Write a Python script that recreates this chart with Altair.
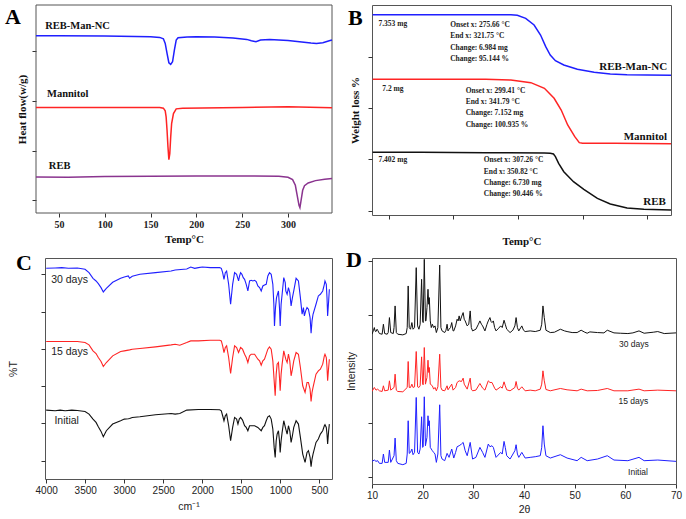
import altair as alt
import pandas as pd

SERIF = "Liberation Serif"
SANS = "Liberation Sans"

# ---------------- Panel A : DSC ----------------
A_blue_x = [25, 50, 100, 150, 160, 164, 166, 168, 170, 172, 174, 176, 178, 180, 190, 200, 220, 240, 255, 260, 265, 270, 280, 300, 315, 325, 331, 338, 345, 348]
A_blue_y = [531, 531, 530, 528, 526, 522, 508, 478, 450, 445, 453, 488, 518, 525, 527, 528, 527, 524, 520, 516, 513, 518, 520, 517, 512, 509, 508, 510, 516, 518]
A_red_x = [25, 100, 160, 164, 166, 167, 168, 169, 170, 171, 172, 173, 175, 178, 185, 250, 300, 348]
A_red_y = [316, 316, 316, 314, 306, 288, 248, 198, 160, 178, 228, 268, 298, 312, 314, 316, 318, 315]
A_reb_x = [25, 60, 100, 150, 200, 250, 290, 300, 305, 308, 310, 312, 313, 314, 316, 318, 322, 330, 340, 348]
A_reb_y = [108, 107, 109, 110, 111, 111, 110, 107, 100, 83, 53, 23, 16, 33, 68, 82, 90, 97, 101, 103]
A_lab_text = ["REB-Man-NC", "Mannitol", "REB"]
A_lab_x = [35, 37, 39]
A_lab_y = [560, 355, 140]

# ---------------- Panel B : TGA ----------------
B_blue_x = [25, 100, 200, 239, 249, 262, 275, 285, 293, 300, 308, 321, 342, 368, 393, 419, 450, 487]
B_blue_y = [601, 601, 601, 601, 599, 590, 570, 540, 505, 480, 463, 450, 437, 428, 423, 421, 420, 419]
B_red_x = [25, 100, 200, 239, 270, 291, 306, 317, 327, 338, 345, 350, 400, 487]
B_red_y = [407, 407, 407, 405, 397, 380, 350, 315, 270, 235, 217, 215, 215, 214]
B_blk_x = [25, 100, 200, 291, 300, 305, 308, 313, 321, 336, 352, 373, 393, 419, 445, 487]
B_blk_y = [188, 188, 187, 186, 185, 183, 175, 155, 130, 100, 77, 50, 33, 21, 17, 15]
B_note_text = ["7.353 mg", "Onset x: 275.66 °C", "End x: 321.75 °C", "Change: 6.984 mg", "Change: 95.144 %",
               "7.2 mg", "Onset x: 299.41 °C", "End x: 341.79 °C", "Change: 7.152 mg", "Change: 100.935 %",
               "7.402 mg", "Onset x: 307.26 °C", "End x: 350.82 °C", "Change: 6.730 mg", "Change: 90.446 %"]
B_note_x = [34, 145, 145, 145, 145, 40, 169, 169, 169, 169, 34, 197, 197, 197, 197]
B_note_y = [573, 570, 536, 502, 468, 377, 373, 339, 305, 271, 165, 164, 130, 96, 62]
B_lab_text = ["REB-Man-NC", "Mannitol", "REB"]
B_lab_x = [481, 481, 479]
B_lab_y = [445, 235, 40]

# ---------------- Panel C : FTIR ----------------
C_blue_x = [4000, 3885, 3800, 3715, 3600, 3502, 3451, 3400, 3361, 3332, 3297, 3268, 3229, 3148, 3046, 2999, 2948, 2931, 2897, 2799, 2599, 2399, 2348, 2199, 2148, 2097, 2050, 1999, 1897, 1777,
            1756, 1739, 1722, 1705, 1688, 1662, 1637, 1611, 1586, 1560, 1535, 1522, 1509, 1492, 1475, 1458, 1437, 1416, 1394, 1373, 1352, 1330, 1309, 1288, 1266, 1245, 1224, 1203, 1181, 1160,
            1139, 1117, 1096, 1083, 1075, 1062, 1049, 1024, 1011, 1002, 990, 977, 956, 937, 930, 913, 896, 879, 862, 845, 828, 798, 768, 743, 721, 704, 692, 675, 658, 640, 619, 606, 594, 581,
            543, 513, 487, 457, 436, 428, 411, 402, 394, 381, 372]
C_blue_y = [633, 634, 635, 633, 634, 630, 620, 603, 595, 587, 575, 562, 573, 591, 603, 607, 610, 603, 609, 615, 620, 625, 628, 631, 637, 633, 635, 637, 635, 635,
            633, 620, 600, 620, 625, 585, 525, 585, 620, 615, 595, 610, 620, 615, 605, 600, 585, 565, 595, 597, 595, 597, 593, 580, 575, 565, 580, 583, 585, 610,
            620, 615, 585, 525, 460, 515, 545, 565, 515, 460, 525, 555, 605, 590, 565, 555, 575, 560, 520, 545, 565, 603, 595, 545, 495, 515, 490, 505, 515, 510, 485, 438, 475, 495,
            525, 550, 555, 565, 585, 595, 585, 545, 490, 535, 570]
C_red_x = [4000, 3800, 3600, 3502, 3451, 3400, 3361, 3332, 3297, 3268, 3229, 3148, 3046, 2999, 2931, 2897, 2799, 2599, 2399, 2348, 2288, 2199, 2148, 2050, 1897, 1777,
           1756, 1739, 1722, 1705, 1688, 1662, 1637, 1611, 1586, 1560, 1535, 1509, 1484, 1458, 1437, 1416, 1394, 1373, 1330, 1288, 1266, 1245, 1224, 1203, 1181, 1160,
           1139, 1117, 1096, 1079, 1066, 1053, 1041, 1024, 1011, 1002, 990, 977, 956, 930, 913, 896, 879, 862, 845, 828, 798, 768, 743, 713, 683, 658, 640, 619, 606, 594, 581,
           543, 513, 487, 457, 436, 428, 411, 402, 394, 381, 372]
C_red_y = [413, 413, 413, 410, 403, 385, 377, 365, 353, 338, 350, 370, 383, 385, 388, 390, 392, 397, 403, 405, 402, 410, 415, 415, 417, 417,
           415, 400, 380, 395, 400, 365, 317, 365, 400, 395, 380, 395, 390, 375, 365, 350, 370, 375, 375, 360, 355, 342, 355, 360, 375, 390,
           397, 390, 355, 295, 250, 315, 345, 350, 305, 265, 315, 345, 385, 360, 350, 375, 355, 310, 330, 355, 380, 375, 335, 280, 260, 290, 290, 270, 233, 260, 275,
           315, 325, 330, 345, 370, 375, 365, 335, 295, 335, 360]
C_blk_x = [4000, 3885, 3821, 3757, 3672, 3600, 3502, 3451, 3400, 3361, 3332, 3297, 3268, 3229, 3148, 3046, 2999, 2948, 2931, 2897, 2799, 2599, 2399, 2348, 2288, 2199, 2050, 1897, 1777,
           1756, 1739, 1722, 1705, 1688, 1662, 1637, 1611, 1586, 1560, 1543, 1526, 1509, 1484, 1458, 1437, 1416, 1394, 1373, 1330, 1288, 1266, 1245, 1224, 1203, 1181, 1160,
           1139, 1117, 1096, 1079, 1066, 1053, 1041, 1024, 1011, 1002, 990, 977, 956, 930, 913, 896, 879, 862, 845, 828, 798, 768, 743, 713, 683, 658, 640, 619, 606, 594, 581,
           543, 513, 487, 457, 436, 428, 411, 402, 394, 381, 372]
C_blk_y = [207, 205, 207, 205, 207, 206, 203, 195, 180, 170, 157, 143, 127, 145, 165, 175, 180, 181, 182, 185, 187, 193, 197, 195, 197, 207, 209, 209, 208,
           205, 190, 175, 190, 195, 160, 115, 155, 185, 180, 165, 180, 185, 177, 160, 155, 145, 160, 160, 160, 155, 150, 145, 155, 160, 175, 187,
           190, 180, 150, 95, 65, 115, 135, 145, 115, 80, 115, 140, 175, 150, 135, 160, 145, 110, 130, 155, 175, 165, 125, 75, 50, 80, 85, 65, 37, 60, 75,
           110, 120, 135, 145, 160, 163, 155, 135, 105, 145, 165]
C_lab_text = ["30 days", "15 days", "Initial"]
C_lab_x = [3936, 3936, 3894]
C_lab_y = [597, 383, 175]

# ---------------- Panel D : XRD ----------------
D_blk_x = [10.0, 10.3, 10.46, 10.6, 10.79, 11.0, 11.12, 11.46, 12.0, 12.25, 12.5, 13.0, 13.2, 13.44, 13.7, 14.2, 14.35, 14.56, 14.8, 15.09, 16.09, 16.75, 16.95, 17.14, 17.35, 17.6, 17.87, 18.1, 18.4, 18.73,
           19.0, 19.26, 19.5, 19.79, 20.0, 20.1, 20.32, 20.55, 20.65, 20.85, 21.05, 21.2, 21.31, 21.5, 21.7, 21.91, 22.17, 22.44, 22.7, 23.0, 23.36, 23.6, 23.83, 24.35, 24.6, 24.82, 25.0, 25.21, 25.5, 25.74,
           26.0, 26.14, 26.5, 26.8, 27.0, 27.2, 27.4, 27.66, 27.99, 28.2, 28.39, 28.79, 29.1, 29.38, 29.6, 29.85, 30.51, 31.0, 31.3, 31.6, 31.83, 32.29, 32.7, 32.95, 33.28, 33.5, 33.68, 33.95, 34.2, 34.48,
           35.0, 35.4, 35.7, 36.06, 36.3, 36.59, 37.25, 37.8, 38.2, 38.44, 38.7, 38.97, 39.57, 39.9, 40.23, 41.22, 42.22, 43.21, 43.5, 43.74, 44.0, 44.33, 45.19, 46.0, 47.18, 48.0, 48.5, 49.5, 50.48, 51.28,
           52.0, 52.47, 53.0, 54.5, 55.78, 56.44, 57.76, 59.0, 60.5, 61.5, 62.7, 63.71, 65.5, 66.4, 67.68, 70.0]
D_blk_y = [450, 462, 470, 460, 458, 465, 462, 452, 450, 480, 452, 450, 455, 500, 455, 452, 470, 535, 455, 450, 448, 452, 470, 595, 470, 465, 485, 465, 470, 650,
           475, 465, 480, 615, 490, 485, 675, 490, 490, 530, 585, 540, 560, 490, 470, 480, 470, 475, 455, 470, 658, 470, 460, 455, 462, 480, 460, 465, 470, 485,
           460, 460, 475, 495, 490, 505, 490, 502, 515, 495, 490, 475, 480, 520, 470, 460, 465, 480, 490, 480, 475, 460, 480, 490, 500, 488, 485, 490, 470, 460,
           468, 475, 470, 492, 480, 465, 455, 462, 475, 500, 470, 460, 475, 462, 458, 460, 458, 462, 480, 535, 500, 462, 455, 456, 465, 460, 458, 455, 455, 462,
           456, 453, 457, 455, 454, 462, 454, 453, 452, 454, 460, 453, 456, 458, 452, 454]
D_red_x = [10.0, 10.46, 10.79, 11.12, 11.46, 12.0, 12.25, 12.5, 13.2, 13.44, 13.7, 14.35, 14.56, 14.8, 15.09, 16.09, 16.95, 17.14, 17.35, 17.6, 17.87, 18.1, 18.4, 18.73, 19.0, 19.26, 19.5, 19.79, 20.0, 20.1,
           20.32, 20.55, 20.85, 21.05, 21.2, 21.31, 21.5, 21.91, 22.17, 22.44, 22.7, 23.0, 23.36, 23.6, 23.83, 24.35, 24.82, 25.0, 25.74, 26.0, 26.5, 26.8, 27.2, 27.66, 27.99, 28.2, 28.79, 29.38, 29.6, 29.85,
           30.51, 31.3, 31.83, 32.29, 32.95, 33.28, 33.68, 34.2, 34.48, 35.4, 35.7, 36.06, 36.3, 36.59, 37.25, 38.2, 38.44, 38.7, 38.97, 39.57, 40.23, 41.22, 42.22, 43.21, 43.5, 43.74, 44.0, 44.33, 45.19, 47.18,
           48.5, 50.48, 51.28, 52.47, 54.5, 56.44, 57.76, 60.5, 62.7, 63.71, 66.4, 70.0]
D_red_y = [278, 290, 282, 285, 280, 278, 295, 280, 282, 310, 282, 290, 330, 282, 278, 277, 290, 368, 290, 290, 300, 290, 292, 398, 292, 290, 295, 382, 300, 298,
           410, 300, 320, 372, 335, 350, 300, 295, 285, 290, 280, 292, 390, 290, 282, 280, 295, 283, 300, 282, 290, 305, 310, 308, 318, 300, 285, 318, 285, 280,
           282, 302, 288, 282, 310, 305, 305, 288, 282, 292, 288, 307, 295, 283, 280, 290, 308, 288, 282, 292, 280, 282, 280, 285, 300, 340, 310, 284, 280, 287,
           283, 280, 285, 280, 281, 287, 280, 280, 285, 280, 282, 280]
D_blu_x = [10.0, 10.46, 10.79, 11.12, 11.46, 12.0, 12.25, 12.5, 13.2, 13.44, 13.7, 14.35, 14.56, 14.8, 15.09, 16.09, 16.75, 16.95, 17.14, 17.35, 17.6, 17.87, 18.1, 18.4, 18.73, 19.0, 19.26, 19.5, 19.79, 20.0,
           20.1, 20.32, 20.55, 20.85, 21.05, 21.2, 21.31, 21.5, 21.91, 22.17, 22.44, 22.7, 23.0, 23.36, 23.6, 23.83, 24.35, 24.82, 25.21, 25.74, 26.14, 26.5, 26.8, 27.2, 27.66, 27.99, 28.39, 28.79, 29.38, 29.85,
           30.51, 31.3, 31.83, 32.29, 32.95, 33.28, 33.68, 33.95, 34.48, 35.4, 35.7, 36.06, 36.3, 36.59, 37.25, 38.2, 38.44, 38.7, 38.97, 39.57, 40.23, 41.22, 42.22, 43.21, 43.5, 43.74, 44.0, 44.33, 45.19, 47.18,
           48.5, 50.48, 51.28, 52.47, 54.5, 56.44, 57.76, 60.5, 62.7, 63.71, 66.4, 70.0]
D_blu_y = [68, 72, 68, 70, 62, 62, 90, 65, 65, 102, 65, 85, 138, 70, 62, 58, 62, 90, 190, 92, 95, 105, 88, 95, 260, 95, 90, 105, 202, 110,
           112, 262, 115, 140, 205, 175, 190, 110, 100, 95, 90, 65, 90, 238, 85, 75, 70, 92, 80, 105, 78, 95, 112, 115, 120, 125, 100, 85, 125, 75,
           80, 110, 95, 80, 120, 112, 115, 110, 80, 95, 90, 128, 110, 85, 75, 100, 118, 90, 80, 95, 78, 80, 82, 85, 110, 175, 120, 85, 78, 88,
           78, 70, 80, 70, 75, 85, 72, 70, 80, 70, 72, 68]
D_lab_text = ["30 days", "15 days", "Initial"]
D_lab_x = [61.7, 61.6, 62.5]
D_lab_y = [420, 250, 35]

BLUE = "#1f1fff"
RED = "#ff2424"
BLACK = "#111111"
PURPLE = "#8a348f"
FRAME = "#555555"


def labels(texts, xs, ys):
    return pd.DataFrame({"t": texts, "x": xs, "y": ys})


def letter(ch, dx, dy):
    return alt.Chart(pd.DataFrame({"t": [ch]})).mark_text(
        font=SERIF, fontWeight="bold", fontSize=22, align="left", baseline="alphabetic", color="black"
    ).encode(text="t:N", x=alt.value(dx), y=alt.value(dy))


def curve(xs, ys, color, xenc, yenc, sw, clip=True):
    return alt.Chart(pd.DataFrame({"x": xs, "y": ys})).mark_line(
        strokeWidth=sw, clip=clip, color=color
    ).encode(x=xenc, y=yenc)


def serif_axis(**kw):
    base = dict(grid=False, domain=False, tickColor="#333", tickSize=4,
                labelFont=SERIF, labelFontWeight="bold", labelFontSize=10, labelColor="#222",
                titleFont=SERIF, titleFontWeight="bold", titleFontSize=11, titleColor="#111",
                labelFlush=False, labelOverlap=False)
    base.update(kw)
    return alt.Axis(**base)


def sans_axis(**kw):
    base = dict(grid=False, domain=False, tickColor="#333", tickSize=4,
                labelFont=SANS, labelFontSize=10, labelColor="#222",
                titleFont=SANS, titleFontSize=10.5, titleFontWeight="normal", titleColor="#222",
                labelFlush=False, labelOverlap=False)
    base.update(kw)
    return alt.Axis(**base)


# ---- Panel A (its frame starts 9 px left of the shared column origin) ----
A_dom_x = [25, 348]
A_dom_y = [0, 623]
xA = alt.X("x:Q", scale=alt.Scale(domain=A_dom_x, range=[-9, 287], nice=False, zero=False),
           axis=serif_axis(values=[50, 100, 150, 200, 250, 300], title="Temp°C", titlePadding=4, labelPadding=2,
                           titleX=139))
yA = alt.Y("y:Q", scale=alt.Scale(domain=A_dom_y, nice=False, zero=False),
           axis=serif_axis(values=[38 + 37.2 * i for i in range(16)], labels=False, title="Heat flow(w/g)",
                           titlePadding=4, offset=9))
frameA = alt.Chart(pd.DataFrame({"a": [0]})).mark_rect(
    fill="transparent", stroke=FRAME, strokeWidth=1
).encode(x=alt.datum(A_dom_x[0]), x2=alt.datum(A_dom_x[1]), y=alt.datum(A_dom_y[0]), y2=alt.datum(A_dom_y[1]))
panelA = alt.layer(
    frameA,
    curve(A_blue_x, A_blue_y, BLUE, xA, yA, 1.5, clip=False),
    curve(A_red_x, A_red_y, RED, xA, yA, 1.5, clip=False),
    curve(A_reb_x, A_reb_y, PURPLE, xA, yA, 1.5, clip=False),
    alt.Chart(labels(A_lab_text, A_lab_x, A_lab_y)).mark_text(
        font=SERIF, fontWeight="bold", fontSize=10.5, align="left", baseline="middle", color="#111"
    ).encode(x="x:Q", y="y:Q", text="t:N"),
    letter("A", -40, 19),
).properties(width=287, height=208, view=alt.ViewBackground(stroke="transparent"))

# ---- Panel B ----
xB = alt.X("x:Q", scale=alt.Scale(domain=[24, 487], nice=False, zero=False),
           axis=serif_axis(values=[50, 100, 150, 200, 250, 300, 350, 400, 450],
                           labelExpr="datum.value % 100 == 0 ? datum.label : ''",
                           title="Temp°C", titlePadding=4, labelPadding=2))
yB = alt.Y("y:Q", scale=alt.Scale(domain=[0, 630], nice=False, zero=False),
           axis=serif_axis(values=[13 + 19.2 * i for i in range(32)], labels=False, title="Weight loss %", titlePadding=7))
panelB = alt.layer(
    curve(B_blue_x, B_blue_y, BLUE, xB, yB, 1.5),
    curve(B_red_x, B_red_y, RED, xB, yB, 1.5),
    curve(B_blk_x, B_blk_y, BLACK, xB, yB, 1.5),
    alt.Chart(labels(B_note_text, B_note_x, B_note_y)).mark_text(
        font=SERIF, fontWeight="bold", fontSize=7.5, align="left", baseline="middle", color="#222"
    ).encode(x="x:Q", y="y:Q", text="t:N"),
    alt.Chart(labels(B_lab_text, B_lab_x, B_lab_y)).mark_text(
        font=SERIF, fontWeight="bold", fontSize=11, align="right", baseline="middle", color="#111"
    ).encode(x="x:Q", y="y:Q", text="t:N"),
    letter("B", -24, 20),
).properties(width=299, height=210)

# ---- Panel C ----
xC = alt.X("x:Q", scale=alt.Scale(domain=[338, 4015], nice=False, zero=False, reverse=True),
           axis=sans_axis(values=list(range(500, 4001, 250)), format="d",
                          labelExpr="datum.value % 500 == 0 ? datum.label : ''",
                          title="cm⁻¹", titlePadding=6, labelPadding=2))
yC = alt.Y("y:Q", scale=alt.Scale(domain=[0, 664], nice=False, zero=False),
           axis=sans_axis(values=[55 + 56 * i for i in range(11)], labels=False, title="%T", titlePadding=22))
panelC = alt.layer(
    curve(C_blue_x, C_blue_y, BLUE, xC, yC, 1.1),
    curve(C_red_x, C_red_y, RED, xC, yC, 1.1),
    curve(C_blk_x, C_blk_y, BLACK, xC, yC, 1.1),
    alt.Chart(labels(C_lab_text, C_lab_x, C_lab_y)).mark_text(
        font=SANS, fontSize=10.5, align="left", baseline="middle", color="#222"
    ).encode(x="x:Q", y="y:Q", text="t:N"),
    letter("C", -29, 12),
).properties(width=287, height=221)

# ---- Panel D ----
xD = alt.X("x:Q", scale=alt.Scale(domain=[10, 70], nice=False, zero=False),
           axis=sans_axis(values=list(range(10, 71, 5)),
                          labelExpr="datum.value % 10 == 0 ? datum.label : ''",
                          title="2θ", titlePadding=4, labelPadding=2))
yD = alt.Y("y:Q", scale=alt.Scale(domain=[0, 679], nice=False, zero=False),
           axis=sans_axis(values=[20 + 20.3 * i for i in range(33)], labels=False, title="Intensity", titlePadding=11))
panelD = alt.layer(
    curve(D_blk_x, D_blk_y, BLACK, xD, yD, 1.0),
    curve(D_red_x, D_red_y, RED, xD, yD, 1.0),
    curve(D_blu_x, D_blu_y, BLUE, xD, yD, 1.0),
    alt.Chart(labels(D_lab_text, D_lab_x, D_lab_y)).mark_text(
        font=SANS, fontSize=8.5, align="center", baseline="middle", color="#222"
    ).encode(x="x:Q", y="y:Q", text="t:N"),
    letter("D", -26, 9),
).properties(width=304, height=226)

chart = alt.concat(
    panelA, panelB, panelC, panelD,
    columns=2, spacing={"row": 43, "column": 40}, align="none", bounds="flush",
).properties(
    padding={"left": 4, "top": 4, "right": 0, "bottom": 0}, background="white"
).configure_view(stroke=FRAME, strokeWidth=1)

chart.save("out.html", embed_options={"renderer": "svg", "actions": False})
